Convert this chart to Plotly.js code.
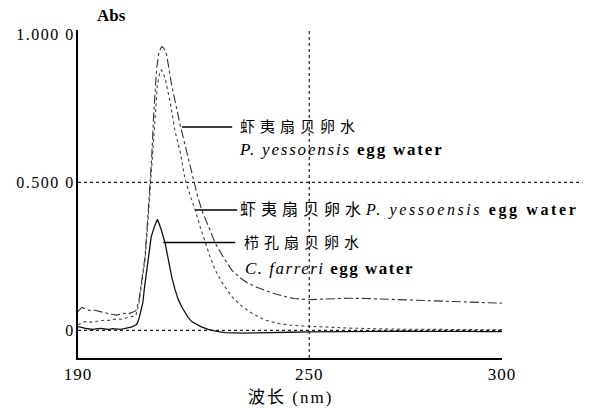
<!DOCTYPE html>
<html>
<head>
<meta charset="utf-8">
<script src="https://cdn.plot.ly/plotly-3.0.1.min.js"></script>
<style>html,body{margin:0;padding:0;background:#fff;}</style>
</head>
<body>
<div id="chart" style="width:591px;height:408px;"></div>
<script>
// P. yessoensis egg water (curve with higher peak, residual tail ~0.1)
const xB = [190,191,192,193,194,195,196,197,198,199,200,201,202,203,204,205,205.8,206.6,207.4,208.1,208.7,209.1,209.6,210.4,211.0,211.7,212.2,213.0,214.3,215.4,216.5,218.2,219.9,221.0,222.1,223.8,225.6,227.8,229.9,232.0,234.2,236.4,238.6,241,243,246,250,255,260,265,270,275,280,285,290,295,300];
const yB = [0.064,0.078,0.072,0.068,0.069,0.066,0.062,0.058,0.057,0.054,0.052,0.055,0.058,0.056,0.060,0.066,0.10,0.17,0.25,0.38,0.50,0.58,0.72,0.886,0.94,0.959,0.955,0.931,0.829,0.76,0.694,0.604,0.51,0.455,0.407,0.35,0.295,0.245,0.204,0.178,0.159,0.146,0.135,0.124,0.117,0.108,0.104,0.107,0.109,0.108,0.106,0.104,0.101,0.098,0.096,0.094,0.092];

// P. yessoensis egg water (second curve, peak ~0.88, tail ~0)
const xA = [190,191,192,193,194,195,196,197,198,199,200,201,202,203,204,205,205.8,206.6,207.4,208.1,208.7,209.3,209.9,210.6,211.2,211.6,212.0,212.6,213.9,215.2,216.5,217.8,219.1,220.4,221.7,223.0,224.3,225.6,227.7,229.9,232.5,235.1,238.6,242,245,248.4,252,255.5,260,265,270,275,280,285,290,295,300];
const yA = [0.019,0.026,0.030,0.029,0.028,0.031,0.033,0.035,0.034,0.036,0.039,0.038,0.041,0.043,0.046,0.05,0.09,0.16,0.24,0.36,0.48,0.60,0.72,0.83,0.87,0.88,0.872,0.852,0.773,0.672,0.604,0.51,0.455,0.407,0.35,0.295,0.248,0.204,0.155,0.114,0.082,0.058,0.035,0.024,0.018,0.015,0.012,0.011,0.008,0.006,0.005,0.004,0.004,0.003,0.003,0.002,0.002];

// C. farreri egg water
const xC = [190,191,192,193,194,195,196,197,198,199,200,201,202,203,204,205.2,205.7,206.2,206.8,207.2,207.7,208.3,209.0,209.8,210.6,211.0,211.6,212.6,213.4,214.3,215.2,216.0,216.9,218.5,219.5,220.4,222,223.8,226,228.2,230,232.5,236,240,245,250,255,260,265,270,275,280,285,290,295,300];
const yC = [0.013,0.009,0.007,0.005,0.004,0.006,0.007,0.005,0.004,0.006,0.005,0.004,0.006,0.009,0.012,0.02,0.035,0.06,0.092,0.14,0.193,0.26,0.317,0.35,0.376,0.362,0.34,0.295,0.24,0.182,0.137,0.105,0.08,0.045,0.03,0.024,0.012,0.004,-0.003,-0.007,-0.008,-0.009,-0.008,-0.008,-0.006,-0.005,-0.004,-0.003,-0.004,-0.003,-0.002,-0.003,-0.002,-0.003,-0.004,-0.004];

const xTickVals = [190, 250, 300];
const xTickText = ['190', '250', '300'];
const yTickVals = [0, 0.5, 1.0];
const yTickText = ['0', '0.500 0', '1.000 0'];

const serif = '"Liberation Serif", "Times New Roman", "DejaVu Serif", "Noto Sans CJK SC", serif';

const sp = (s, px) => '<span style="letter-spacing:' + px + 'px">' + s + '</span>';

const traces = [
  {x: xB, y: yB, type: 'scatter', mode: 'lines', line: {color: '#333', width: 1.1, dash: 'dashdot'}, hoverinfo: 'skip'},
  {x: xA, y: yA, type: 'scatter', mode: 'lines', line: {color: '#444', width: 1.1, dash: 'dot'}, hoverinfo: 'skip'},
  {x: xC, y: yC, type: 'scatter', mode: 'lines', line: {color: '#111', width: 1.3}, hoverinfo: 'skip'}
];

const dotLine = {color: '#222', width: 1.2, dash: 'dot'};
const lead = {color: '#000', width: 1.6};

const zh = (s) => sp(s, 5);
const en = (it, rest, ls) => '<span style="letter-spacing:' + ls + 'px"><i>' + it + '</i> <b>' + rest + '</b></span>';

const layout = {
  width: 591, height: 408,
  margin: {l: 78, r: 89, t: 30, b: 50},
  paper_bgcolor: '#fff', plot_bgcolor: '#fff',
  showlegend: false,
  xaxis: {
    range: [190, 300], showgrid: false, zeroline: false,
    showline: true, linecolor: '#000', linewidth: 2,
    tickvals: xTickVals, ticktext: xTickText.map(t => sp(t, 1)), ticks: '',
    tickfont: {family: serif, size: 17, color: '#000'}
  },
  yaxis: {
    range: [-0.093, 1.015], showgrid: false, zeroline: false,
    showline: true, linecolor: '#000', linewidth: 2,
    tickvals: yTickVals, ticktext: yTickText.map(t => sp(t, 1.5)), ticks: '',
    ticklabelstandoff: -2,
    tickfont: {family: serif, size: 16, color: '#000'}
  },
  shapes: [
    {type: 'line', xref: 'x', yref: 'y', x0: 190, x1: 300, y0: 0, y1: 0, line: dotLine},
    {type: 'line', xref: 'paper', yref: 'y', x0: 0, x1: 1.19, y0: 0.5, y1: 0.5, line: dotLine},
    {type: 'line', xref: 'x', yref: 'paper', x0: 250, x1: 250, y0: 0, y1: 1, line: dotLine},
    {type: 'line', xref: 'x', yref: 'y', x0: 217.0, x1: 230.0, y0: 0.6875, y1: 0.6875, line: lead},
    {type: 'line', xref: 'x', yref: 'y', x0: 220.4, x1: 231.3, y0: 0.407, y1: 0.407, line: lead},
    {type: 'line', xref: 'x', yref: 'y', x0: 212.1, x1: 230.8, y0: 0.297, y1: 0.297, line: lead}
  ],
  annotations: [
    {xref: 'paper', yref: 'paper', x: 0.08, y: 1.043, text: '<b>Abs</b>', showarrow: false, xanchor: 'center', yanchor: 'middle', font: {family: serif, size: 17, color: '#000'}},
    {xref: 'paper', yref: 'paper', x: 0.5, y: -0.119, text: sp('波长 (nm)', 2), showarrow: false, xanchor: 'center', yanchor: 'middle', font: {family: serif, size: 17, color: '#000'}},
    {xref: 'x', yref: 'y', x: 231.6, y: 0.6875, text: zh('虾夷扇贝卵水'), showarrow: false, xanchor: 'left', yanchor: 'middle', font: {family: serif, size: 15, color: '#000'}},
    {xref: 'x', yref: 'y', x: 231.3, y: 0.61, text: en('P. yessoensis', 'egg water', 1.8), showarrow: false, xanchor: 'left', yanchor: 'middle', font: {family: serif, size: 17, color: '#000'}},
    {xref: 'x', yref: 'y', x: 231.6, y: 0.407, text: zh('虾夷扇贝卵水') + en('P. yessoensis', 'egg water', 2.6), showarrow: false, xanchor: 'left', yanchor: 'middle', font: {family: serif, size: 16, color: '#000'}},
    {xref: 'x', yref: 'y', x: 232.6, y: 0.297, text: zh('栉孔扇贝卵水'), showarrow: false, xanchor: 'left', yanchor: 'middle', font: {family: serif, size: 15, color: '#000'}},
    {xref: 'x', yref: 'y', x: 232.9, y: 0.211, text: en('C. farreri', 'egg water', 1.5), showarrow: false, xanchor: 'left', yanchor: 'middle', font: {family: serif, size: 17, color: '#000'}}
  ]
};

Plotly.newPlot('chart', traces, layout, {displayModeBar: false, staticPlot: true});
</script>
</body>
</html>
